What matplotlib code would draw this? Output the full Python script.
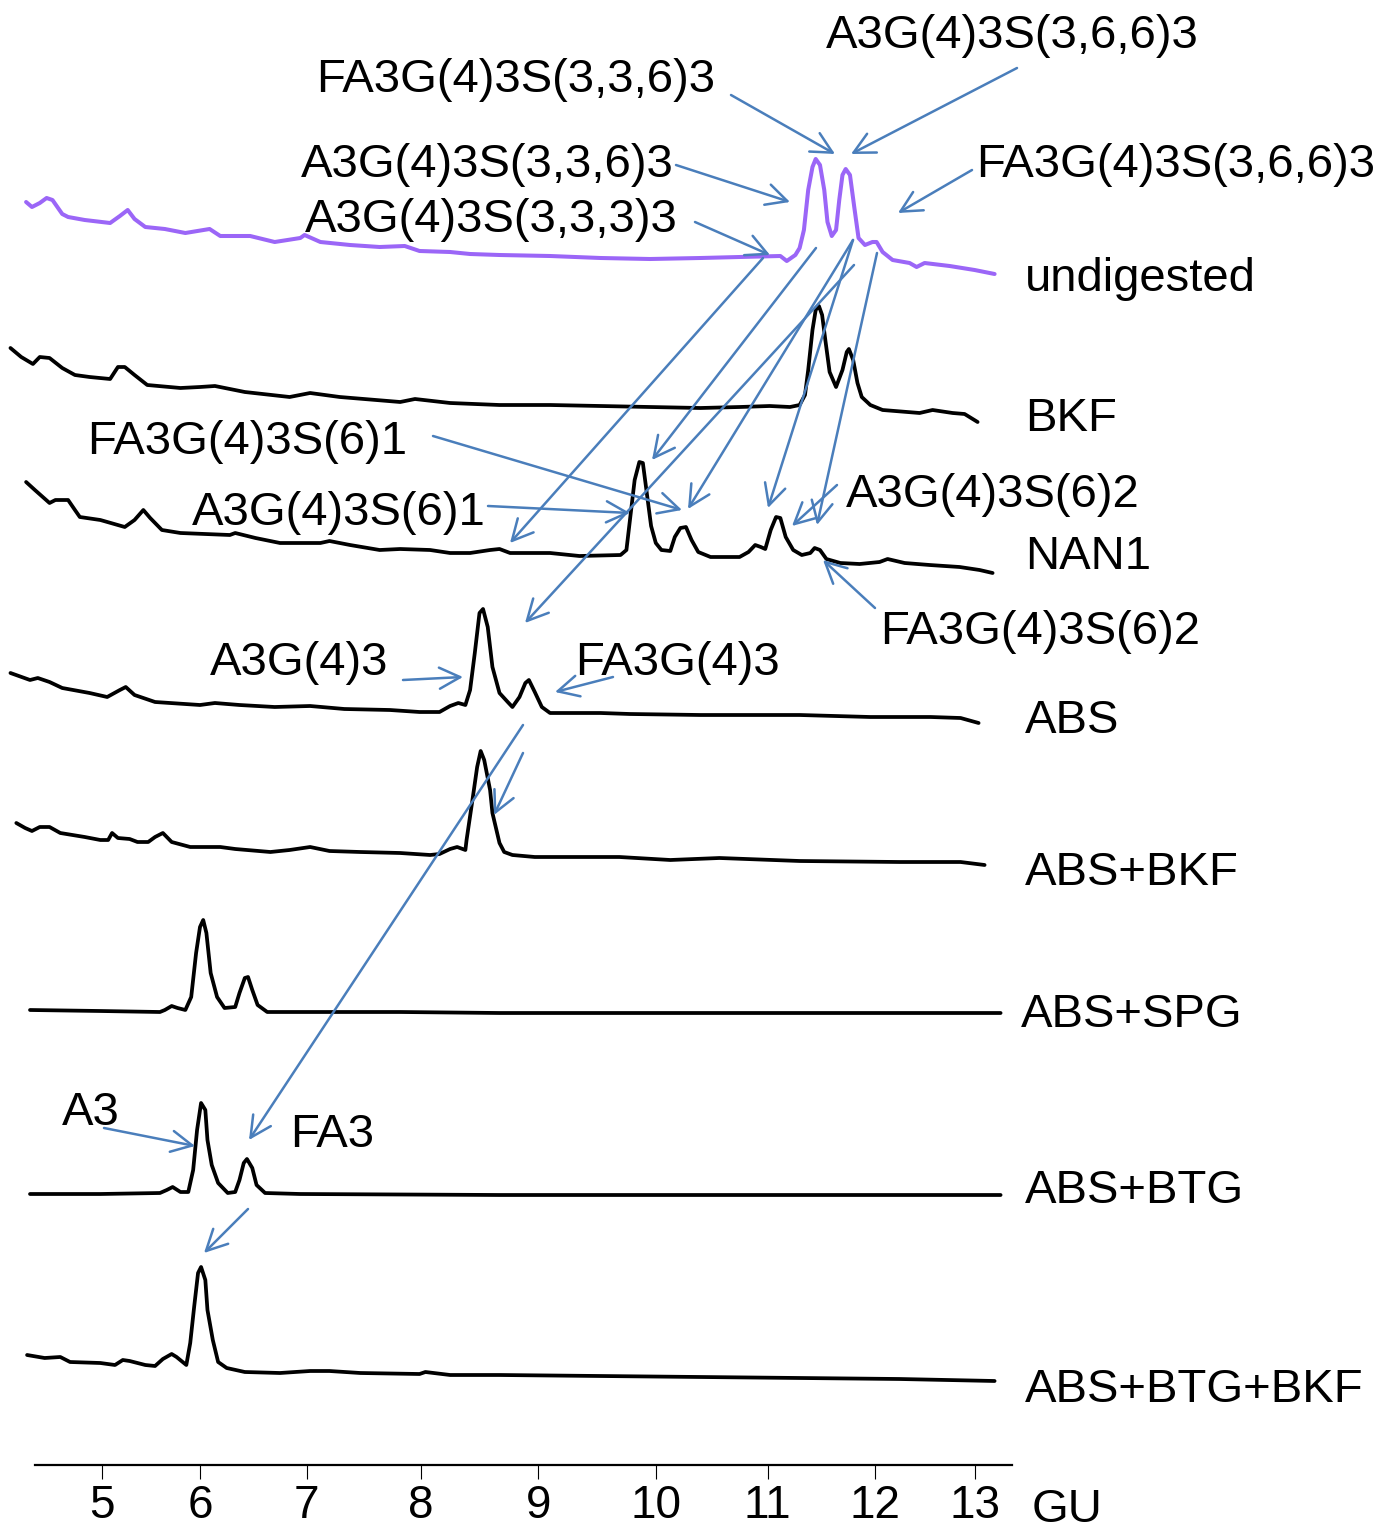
import numpy as np
import matplotlib
matplotlib.use('Agg')
import matplotlib.pyplot as plt

plt.rcParams['font.family'] = ['Liberation Sans', 'DejaVu Sans']

# ---------------- data ----------------
gu_ticks = [5, 6, 7, 8, 9, 10, 11, 12, 13]
tick_labels = ['5', '6', '7', '8', '9', '10', '11', '12', '13']

# GU axis is not linear in migration position: calibration of the scale
cal_gu = [3, 4, 5, 6, 7, 8, 9, 10, 11, 12, 13, 14, 18]
cal_pos = [-93.1, 4.6, 102.3, 200, 306.7, 420.7, 538.3, 655.8, 767.5, 874.6, 974.6, 1074.6, 1474.6]

undigested_gu = [4.22, 4.28, 4.36, 4.43, 4.49, 4.59, 4.65, 4.82, 5.08, 5.18, 5.26, 5.33, 5.44, 5.64,
                 5.85, 6.09, 6.19, 6.47, 6.70, 6.94, 6.98, 7.12, 7.38, 7.64, 7.86, 7.99, 8.25, 8.42,
                 8.67, 9.10, 9.53, 9.95, 10.40, 10.75, 11.12, 11.18, 11.26, 11.30, 11.34, 11.38,
                 11.42, 11.45, 11.49, 11.53, 11.56, 11.60, 11.64, 11.67, 11.70, 11.73, 11.77, 11.81,
                 11.85, 11.91, 11.98, 12.02, 12.08, 12.18, 12.35, 12.42, 12.50, 12.75, 13.00, 13.20]
undigested_y = [1327, 1322, 1326, 1331, 1329, 1315, 1312, 1309, 1306, 1313, 1319, 1310, 1302, 1300,
                1296, 1300, 1293, 1293, 1287, 1291, 1294, 1287, 1284, 1282, 1283, 1278, 1277, 1275,
                1274, 1273, 1271, 1270, 1271, 1272, 1273, 1268, 1274, 1281, 1299, 1339,
                1362, 1370, 1364, 1339, 1307, 1293, 1299, 1329, 1354, 1360, 1354, 1322,
                1291, 1284, 1287, 1287, 1277, 1269, 1266, 1262, 1266, 1263, 1259, 1255]

bkf_gu = [4.06, 4.17, 4.29, 4.36, 4.46, 4.59, 4.72, 4.87, 5.08, 5.16, 5.23, 5.33, 5.46, 5.80, 6.00,
          6.14, 6.42, 6.84, 7.03, 7.29, 7.82, 7.95, 8.25, 8.67, 9.10, 9.53, 9.95, 10.40, 10.75,
          11.02, 11.21, 11.30, 11.35, 11.38, 11.42, 11.45, 11.48, 11.51, 11.54, 11.58, 11.64,
          11.70, 11.74, 11.76, 11.80, 11.84, 11.88, 11.96, 12.08, 12.45, 12.58, 12.78, 12.90, 13.03]
bkf_y = [1181, 1172, 1165, 1172, 1171, 1161, 1154, 1152, 1150, 1162, 1162, 1154, 1144, 1141, 1142,
         1143, 1137, 1132, 1136, 1132, 1127, 1130, 1126, 1124, 1124, 1123, 1122, 1121, 1122,
         1123, 1122, 1124, 1134, 1159, 1199, 1219, 1223, 1214, 1189, 1157, 1142,
         1159, 1177, 1180, 1169, 1146, 1132, 1124, 1119, 1116, 1119, 1116, 1115, 1107]

nan1_gu = [4.22, 4.31, 4.46, 4.52, 4.65, 4.72, 4.77, 4.98, 5.23, 5.33, 5.42, 5.49, 5.61, 5.80, 6.28,
           6.33, 6.52, 6.75, 7.12, 7.20, 7.38, 7.64, 7.82, 8.08, 8.25, 8.42, 8.59, 8.67, 8.76,
           9.10, 9.35, 9.70, 9.75, 9.78, 9.82, 9.86, 9.89, 9.92, 9.96, 10.00, 10.05, 10.13, 10.17,
           10.22, 10.27, 10.32, 10.38, 10.49, 10.75, 10.83, 10.89, 10.94, 10.98, 11.03, 11.08,
           11.12, 11.17, 11.24, 11.32, 11.40, 11.44, 11.49, 11.55, 11.68, 11.86, 12.05, 12.13,
           12.30, 12.55, 12.85, 13.05, 13.18]
nan1_y = [1047, 1039, 1026, 1029, 1029, 1019, 1012, 1009, 1002, 1009, 1019, 1011, 999, 996, 994,
          996, 991, 986, 986, 988, 984, 979, 980, 979, 976, 976, 979, 980, 976,
          976, 973, 974, 979, 1009, 1049, 1067, 1066, 1039, 1003, 986, 979, 978, 992,
          1001, 1002, 989, 977, 972, 972, 977, 984, 982, 980, 999, 1012,
          1011, 992, 979, 974, 976, 981, 979, 970, 966, 965, 967, 970,
          966, 964, 962, 959, 956]

abs_gu = [4.06, 4.26, 4.34, 4.46, 4.59, 4.87, 5.05, 5.18, 5.24, 5.33, 5.54, 6.00, 6.14, 6.37, 6.70,
          7.03, 7.33, 7.73, 7.99, 8.16, 8.25, 8.32, 8.38, 8.42, 8.46, 8.50, 8.53, 8.57, 8.61,
          8.67, 8.74, 8.78, 8.84, 8.89, 8.92, 8.97, 9.03, 9.10, 9.53, 9.78, 10.40, 11.30, 11.96,
          12.56, 12.86, 13.04]
abs_y = [856, 849, 851, 847, 841, 836, 832, 839, 842, 834, 827, 824, 826, 824, 822,
         823, 820, 819, 817, 817, 823, 826, 824, 839, 876, 916, 920, 902, 862,
         836, 827, 822, 832, 846, 849, 837, 822, 816, 816, 815, 814, 814, 812,
         812, 811, 806]

abs_bkf_gu = [4.12, 4.21, 4.28, 4.36, 4.46, 4.57, 4.82, 4.98, 5.06, 5.10, 5.16, 5.28, 5.36, 5.47,
              5.54, 5.62, 5.71, 5.90, 6.19, 6.33, 6.66, 6.84, 7.03, 7.20, 7.47, 7.82, 8.08, 8.16,
              8.25, 8.31, 8.38, 8.39, 8.44, 8.48, 8.51, 8.54, 8.59, 8.61, 8.67, 8.71, 8.78, 8.97,
              9.69, 10.13, 10.57, 11.30, 12.25, 12.86, 13.10]
abs_bkf_y = [706, 701, 698, 702, 702, 696, 692, 689, 689, 696, 691, 690, 687, 687,
             692, 696, 687, 682, 682, 680, 677, 679, 682, 678, 677, 676, 674, 675,
             680, 682, 679, 689, 729, 762, 778, 769, 739, 716, 686, 677, 674, 672,
             672, 669, 671, 668, 667, 667, 664]

abs_spg_gu = [4.26, 4.98, 5.59, 5.64, 5.71, 5.77, 5.85, 5.91, 5.96, 6.00, 6.03, 6.06, 6.10, 6.16,
              6.23, 6.33, 6.37, 6.42, 6.45, 6.49, 6.54, 6.63, 6.94, 7.82, 8.67, 10.40, 13.26]
abs_spg_y = [519, 518, 517, 519, 523, 521, 519, 532, 576, 602, 609, 596, 556, 532,
             521, 522, 536, 551, 552, 539, 524, 517, 517, 517, 516, 516, 516]

abs_btg_gu = [4.26, 4.98, 5.59, 5.66, 5.72, 5.80, 5.88, 5.93, 5.97, 6.01, 6.05, 6.07, 6.11, 6.17,
              6.26, 6.33, 6.37, 6.41, 6.44, 6.49, 6.53, 6.61, 6.94, 8.67, 13.26]
abs_btg_y = [335, 335, 336, 339, 342, 337, 337, 359, 399, 426, 419, 389, 364, 346,
             336, 337, 349, 366, 370, 361, 344, 336, 335, 334, 334]

abs_btg_bkf_gu = [4.23, 4.41, 4.57, 4.67, 4.98, 5.13, 5.21, 5.28, 5.44, 5.54, 5.62, 5.71, 5.76,
                  5.86, 5.90, 5.94, 5.98, 6.01, 6.05, 6.07, 6.12, 6.17, 6.25, 6.42, 6.75, 7.03,
                  7.20, 7.47, 7.99, 8.04, 8.25, 8.67, 10.40, 12.25, 13.20]
abs_btg_bkf_y = [174, 171, 172, 167, 166, 164, 169, 168, 164, 163, 170, 175, 172,
                 164, 186, 222, 256, 262, 249, 219, 189, 167, 161, 157, 156, 158,
                 158, 156, 155, 157, 154, 154, 152, 150, 148]

trace_names = ['undigested', 'BKF', 'NAN1', 'ABS', 'ABS+BKF', 'ABS+SPG', 'ABS+BTG', 'ABS+BTG+BKF']

# ---------------- layout / style ----------------
W, H = 1390, 1529
BLUE = '#4a7ebb'
PURPLE = '#9b66f7'
FS = 34

fig = plt.figure(figsize=(W / 100, H / 100), dpi=100)
ax = fig.add_axes([0, 0, 1, 1])


def fwd(g):
    return np.interp(g, cal_gu, cal_pos)


def inv(p):
    return np.interp(p, cal_pos, cal_gu)


ax.set_xscale('function', functions=(fwd, inv))
ax.set_xlim(inv(0), inv(W))
ax.set_ylim(0, H)

traces = [
    (undigested_gu, undigested_y, PURPLE, 2.9),
    (bkf_gu, bkf_y, 'black', 2.7),
    (nan1_gu, nan1_y, 'black', 2.7),
    (abs_gu, abs_y, 'black', 2.7),
    (abs_bkf_gu, abs_bkf_y, 'black', 2.7),
    (abs_spg_gu, abs_spg_y, 'black', 2.7),
    (abs_btg_gu, abs_btg_y, 'black', 2.7),
    (abs_btg_bkf_gu, abs_btg_bkf_y, 'black', 2.7),
]
for gx, gy, c, lw in traces:
    ax.plot(gx, gy, color=c, lw=lw, solid_joinstyle='round', solid_capstyle='round', zorder=3)

# axis
for s in ['left', 'right', 'top']:
    ax.spines[s].set_visible(False)
ax.spines['bottom'].set_position(('data', H - 1465))
ax.spines['bottom'].set_bounds(inv(35), inv(1012))
ax.spines['bottom'].set_linewidth(1.6)
ax.set_xticks(gu_ticks)
ax.set_xticklabels(tick_labels)
ax.tick_params(axis='x', direction='out', length=10, width=0.8, pad=4, labelsize=33)
ax.set_yticks([])
ax.xaxis.set_minor_locator(matplotlib.ticker.NullLocator())


def txt(s, x, yb):
    ax.annotate(s, xy=(x, H - yb), xycoords='figure pixels', ha='left', va='baseline',
                fontsize=FS, color='black')


def arrow(tail, head):
    ax.annotate('', xy=(head[0], H - head[1]), xytext=(tail[0], H - tail[1]),
                xycoords='figure pixels', textcoords='figure pixels',
                arrowprops=dict(arrowstyle='->,head_length=0.75,head_width=0.38',
                                color=BLUE, lw=1.8, shrinkA=0, shrinkB=0, mutation_scale=20),
                zorder=4)


# trace names
name_pos = [(1025, 291), (1025, 431), (1025, 569), (1025, 733), (1025, 885), (1021, 1027),
            (1025, 1203), (1025, 1402)]
for n, (x, yb) in zip(trace_names, name_pos):
    txt(n, x, yb)
txt('GU', 1032, 1522)

# peak labels
labels = [
    ('A3G(4)3S(3,6,6)3', 826, 48),
    ('FA3G(4)3S(3,3,6)3', 316, 92),
    ('A3G(4)3S(3,3,6)3', 301, 177),
    ('FA3G(4)3S(3,6,6)3', 976, 177),
    ('A3G(4)3S(3,3,3)3', 305, 232),
    ('FA3G(4)3S(6)1', 87, 454),
    ('A3G(4)3S(6)1', 192, 525),
    ('A3G(4)3S(6)2', 846, 507),
    ('FA3G(4)3S(6)2', 880, 644),
    ('A3G(4)3', 210, 675),
    ('FA3G(4)3', 575, 675),
    ('A3', 62, 1125),
    ('FA3', 290, 1147),
]
for s, x, yb in labels:
    txt(s, x, yb)

arrows = [
    ((731, 95), (835, 154)),
    ((1017, 68), (851, 154)),
    ((972, 170), (898, 213)),
    ((676, 165), (790, 202)),
    ((695, 222), (770, 255)),
    ((763, 258), (510, 543)),
    ((816, 248), (652, 460)),
    ((853, 240), (688, 509)),
    ((853, 240), (768, 508)),
    ((854, 265), (525, 623)),
    ((877, 253), (817, 525)),
    ((433, 436), (682, 510)),
    ((488, 506), (630, 513)),
    ((837, 485), (792, 526)),
    ((875, 608), (823, 560)),
    ((403, 680), (463, 677)),
    ((613, 677), (555, 692)),
    ((523, 753), (494, 815)),
    ((523, 725), (249, 1140)),
    ((104, 1128), (195, 1146)),
    ((248, 1209), (204, 1253)),
]
for t, h in arrows:
    arrow(t, h)

fig.savefig('out.png', dpi=100)
